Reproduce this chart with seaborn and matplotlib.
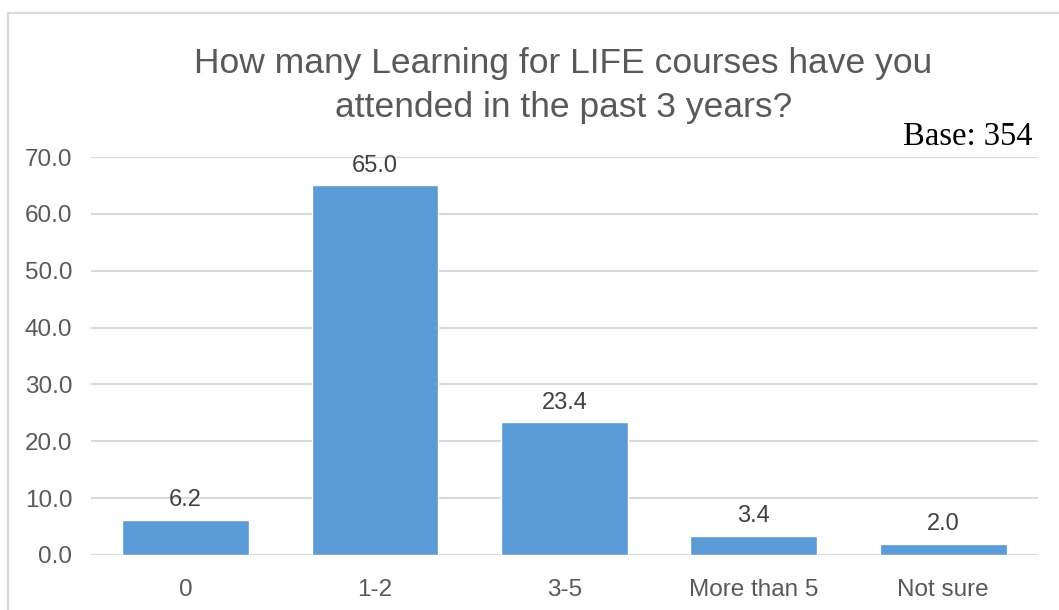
import pandas as pd
import seaborn as sns
import matplotlib.pyplot as plt
from matplotlib.patches import Rectangle

# Chart data
categories = ['0', '1-2', '3-5', 'More than 5', 'Not sure']
percentages = [6.2, 65.0, 23.4, 3.4, 2.0]
y_ticks = [0, 10, 20, 30, 40, 50, 60, 70]
title = 'How many Learning for LIFE courses have you\nattended in the past 3 years?'
base_note = 'Base: 354'

df = pd.DataFrame({'Courses': categories, 'Percent': percentages})

sns.set_style('white')
plt.rcParams['font.family'] = ['Liberation Sans', 'DejaVu Sans']

fig = plt.figure(figsize=(10.59, 6.10), dpi=100)
ax = fig.add_axes([0.0859, 0.0902, 0.8941, 0.6524])

sns.barplot(data=df, x='Courses', y='Percent', color='#5B9BD5',
            width=0.67, saturation=1, ax=ax, zorder=3)

# Value labels above bars
for c in ax.containers:
    ax.bar_label(c, fmt='%.1f', padding=6, fontsize=17, color='#404040')

ax.set_ylim(0, 70)
ax.set_yticks(y_ticks)
ax.set_yticklabels([f'{v:.1f}' for v in y_ticks])
ax.yaxis.grid(True, color='#D9D9D9', linewidth=1.5, zorder=0)
ax.set_axisbelow(True)
ax.tick_params(axis='both', length=0, labelsize=17.5, labelcolor='#595959')
ax.tick_params(axis='y', pad=13.5)
ax.tick_params(axis='x', pad=17)
ax.set_xlabel('')
ax.set_ylabel('')
for s in ax.spines.values():
    s.set_visible(False)

fig.text(0.532, 0.86, title, ha='center', va='center', fontsize=25.5,
         color='#595959', linespacing=1.45)
fig.text(0.975, 0.776, base_note, ha='right', va='center', fontsize=23.5,
         family='Liberation Serif', color='black')

# Outer chart border (left/top visible)
fig.patches.append(Rectangle((8 / 1059, -0.1), 1.2, 1.1 - 13 / 610,
                             transform=fig.transFigure, fill=False,
                             edgecolor='#D9D9D9', linewidth=1.5))

fig.savefig('out.png', dpi=100)
